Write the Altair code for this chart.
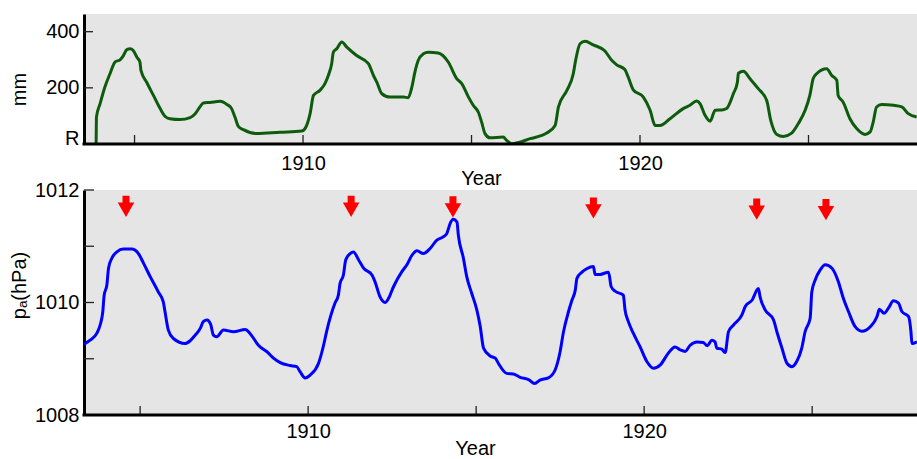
import altair as alt
import pandas as pd

# ---------------- data ----------------
rain_years = [1903.86, 1903.87, 1903.98, 1904.12, 1904.27, 1904.42, 1904.57, 1904.67, 1904.77, 1904.87,
              1904.96, 1905.07, 1905.16, 1905.19, 1905.36, 1905.56, 1905.76, 1905.91, 1906.05, 1906.35,
              1906.65, 1906.80, 1906.94, 1907.04, 1907.24, 1907.54, 1907.74, 1907.88, 1907.98, 1908.08,
              1908.23, 1908.63, 1909.32, 1909.96, 1910.06, 1910.21, 1910.31, 1910.50, 1910.65, 1910.75,
              1910.85, 1910.90, 1911.00, 1911.15, 1911.30, 1911.59, 1911.94, 1912.09, 1912.19, 1912.34,
              1912.58, 1912.98, 1913.12, 1913.23, 1913.32, 1913.42, 1913.57, 1913.72, 1914.01, 1914.31,
              1914.56, 1914.71, 1914.91, 1915.05, 1915.20, 1915.30, 1915.40, 1915.55, 1915.94, 1916.04,
              1916.19, 1916.74, 1917.23, 1917.48, 1917.58, 1917.83, 1918.02, 1918.09, 1918.22, 1918.37,
              1918.61, 1918.96, 1919.16, 1919.31, 1919.55, 1919.65, 1919.80, 1920.10, 1920.30, 1920.45,
              1920.59, 1920.89, 1921.28, 1921.48, 1921.68, 1921.78, 1921.93, 1922.08, 1922.23, 1922.47,
              1922.57, 1922.77, 1922.89, 1922.92, 1923.07, 1923.26, 1923.51, 1923.76, 1923.88, 1924.06,
              1924.25, 1924.50, 1924.70, 1924.90, 1925.04, 1925.14, 1925.24, 1925.54, 1925.69, 1925.84,
              1925.88, 1926.03, 1926.23, 1926.43, 1926.68, 1926.83, 1926.92, 1927.02, 1927.17, 1927.52,
              1927.77, 1927.96, 1928.21]
rain_mm = [0, 96, 145, 203, 250, 292, 300, 315, 336, 339,
           333, 309, 292, 262, 220, 173, 126, 98, 90, 87,
           94, 108, 132, 146, 148, 152, 141, 126, 96, 63,
           51, 37, 42, 46, 55, 108, 173, 191, 215, 244,
           286, 327, 339, 363, 345, 315, 286, 244, 220, 179,
           167, 167, 165, 203, 256, 298, 321, 327, 324, 292,
           233, 215, 167, 138, 114, 78, 37, 22, 25, 13,
           1, 19, 39, 66, 132, 191, 250, 298, 357, 366,
           353, 331, 298, 282, 265, 238, 193, 167, 120, 66,
           66, 90, 126, 138, 153, 144, 102, 81, 120, 122,
           126, 179, 220, 252, 259, 233, 197, 155, 84, 34,
           27, 39, 73, 120, 173, 233, 250, 268, 244, 227,
           173, 149, 90, 55, 34, 43, 78, 132, 141, 138,
           132, 108, 96]

pres_years = [1903.33, 1903.51, 1903.71, 1903.81, 1903.89, 1903.93, 1904.01, 1904.06, 1904.16, 1904.31,
              1904.50, 1904.75, 1904.95, 1905.10, 1905.30, 1905.54, 1905.69, 1905.74, 1905.84, 1905.99,
              1906.34, 1906.49, 1906.64, 1906.79, 1906.88, 1906.99, 1907.10, 1907.18, 1907.28, 1907.48,
              1907.78, 1908.13, 1908.27, 1908.52, 1908.82, 1908.97, 1909.17, 1909.46, 1909.66, 1909.76,
              1909.91, 1910.06, 1910.31, 1910.46, 1910.56, 1910.80, 1910.90, 1910.95, 1911.05, 1911.12,
              1911.25, 1911.35, 1911.50, 1911.65, 1911.90, 1911.99, 1912.14, 1912.29, 1912.39, 1912.54,
              1912.79, 1912.94, 1913.09, 1913.24, 1913.43, 1913.63, 1913.83, 1914.03, 1914.13, 1914.23,
              1914.32, 1914.43, 1914.47, 1914.62, 1914.72, 1914.87, 1915.02, 1915.12, 1915.22, 1915.42,
              1915.57, 1915.66, 1915.91, 1916.11, 1916.31, 1916.56, 1916.74, 1916.90, 1917.15, 1917.35,
              1917.50, 1917.60, 1917.75, 1917.85, 1917.95, 1918.00, 1918.15, 1918.29, 1918.49, 1918.54,
              1918.69, 1918.94, 1919.02, 1919.14, 1919.38, 1919.43, 1919.53, 1919.68, 1919.88, 1920.08,
              1920.28, 1920.48, 1920.72, 1920.92, 1921.07, 1921.22, 1921.37, 1921.57, 1921.76, 1921.88,
              1922.01, 1922.11, 1922.16, 1922.31, 1922.41, 1922.51, 1922.66, 1922.91, 1923.01, 1923.21,
              1923.40, 1923.45, 1923.60, 1923.85, 1923.95, 1924.10, 1924.25, 1924.40, 1924.54, 1924.69,
              1924.79, 1924.94, 1924.99, 1925.09, 1925.24, 1925.39, 1925.59, 1925.78, 1925.93, 1926.08,
              1926.28, 1926.48, 1926.73, 1926.93, 1927.00, 1927.14, 1927.27, 1927.42, 1927.57, 1927.67,
              1927.87, 1927.94, 1927.97, 1928.12]
pres_hpa = [1009.26, 1009.33, 1009.45, 1009.60, 1009.84, 1010.13, 1010.31, 1010.61, 1010.79, 1010.90,
            1010.95, 1010.95, 1010.87, 1010.70, 1010.46, 1010.19, 1010.01, 1009.84, 1009.51, 1009.36,
            1009.27, 1009.32, 1009.42, 1009.54, 1009.66, 1009.69, 1009.61, 1009.42, 1009.39, 1009.51,
            1009.48, 1009.52, 1009.45, 1009.24, 1009.10, 1009.01, 1008.93, 1008.88, 1008.86, 1008.77,
            1008.66, 1008.71, 1008.92, 1009.24, 1009.51, 1009.99, 1010.13, 1010.34, 1010.49, 1010.76,
            1010.87, 1010.90, 1010.76, 1010.61, 1010.49, 1010.37, 1010.10, 1010.00, 1010.07, 1010.28,
            1010.55, 1010.67, 1010.84, 1010.92, 1010.87, 1010.96, 1011.11, 1011.17, 1011.23, 1011.41,
            1011.48, 1011.43, 1011.20, 1010.79, 1010.46, 1010.16, 1009.87, 1009.58, 1009.19, 1009.05,
            1009.01, 1008.92, 1008.74, 1008.73, 1008.67, 1008.63, 1008.56, 1008.62, 1008.66, 1008.80,
            1009.13, 1009.48, 1009.84, 1010.04, 1010.22, 1010.43, 1010.54, 1010.60, 1010.64, 1010.50,
            1010.50, 1010.54, 1010.28, 1010.20, 1010.13, 1009.87, 1009.66, 1009.45, 1009.21, 1008.95,
            1008.83, 1008.89, 1009.10, 1009.21, 1009.16, 1009.13, 1009.24, 1009.30, 1009.29, 1009.23,
            1009.33, 1009.30, 1009.19, 1009.17, 1009.11, 1009.48, 1009.60, 1009.78, 1009.93, 1010.04,
            1010.25, 1010.10, 1009.87, 1009.69, 1009.48, 1009.19, 1008.92, 1008.86, 1008.95, 1009.19,
            1009.48, 1009.72, 1010.19, 1010.40, 1010.58, 1010.67, 1010.61, 1010.37, 1010.07, 1009.84,
            1009.57, 1009.49, 1009.57, 1009.75, 1009.88, 1009.81, 1009.90, 1010.03, 1009.99, 1009.84,
            1009.75, 1009.48, 1009.27, 1009.30]

arrow_years = [1904.58, 1911.28, 1914.31, 1918.49, 1923.35, 1925.41]
arrow_levels = [1011.71, 1011.71, 1011.70, 1011.68, 1011.66, 1011.65]

year_ticks = [1905, 1910, 1915, 1920, 1925]
year_labels = [1910, 1920]
rain_ticks = [200, 400]
rain_labels = [0, 200, 400]
pres_ticks = [1009, 1010, 1011, 1012]
pres_labels = [1008, 1010, 1012]

# ---------------- layout / style ----------------
W = 833
H1, H2 = 130, 225
FONT = "Liberation Sans"
FS = 20
ARROW = "M-0.33,-1 L0.33,-1 L0.33,-0.35 L0.78,-0.35 L0,1 L-0.78,-0.35 L-0.33,-0.35 Z"

rain_df = pd.DataFrame({"year": rain_years, "mm": rain_mm})
pres_df = pd.DataFrame({"year": pres_years, "hpa": pres_hpa})
arrow_df = pd.DataFrame({"year": arrow_years, "hpa": arrow_levels})
one_df = pd.DataFrame({"k": [0]})

top_x = alt.Scale(domain=[1903.50, 1928.22], nice=False, zero=False)
top_y = alt.Scale(domain=[0, 463], nice=False, zero=False)
bot_x = alt.Scale(domain=[1903.33, 1928.12], nice=False, zero=False)
bot_y = alt.Scale(domain=[1008, 1012], nice=False, zero=False)


def x_axis(label_pad, title_x, title_y):
    return alt.Axis(values=year_labels, format="d", title="Year", domain=False, ticks=False,
                    tickSize=0, grid=False, labelPadding=label_pad, labelBaseline="alphabetic",
                    labelFont=FONT, labelFontSize=FS, labelColor="black",
                    titleFont=FONT, titleFontSize=FS, titleFontWeight="normal", titleColor="black",
                    titleX=title_x, titleY=title_y, titleAlign="center", titleBaseline="alphabetic")


def y_axis(values, title, title_y, label_expr=None):
    kw = dict(values=values, title=title, format="d", domain=True, domainColor="black", domainWidth=3,
              ticks=False, tickSize=0, grid=False, labelPadding=5,
              labelFont=FONT, labelFontSize=FS, labelColor="black",
              titleFont=FONT, titleFontSize=FS, titleFontWeight="normal", titleColor="black",
              titleAngle=270, titleX=-59, titleY=title_y, titleAlign="center",
              titleBaseline="alphabetic")
    if label_expr:
        kw["labelExpr"] = label_expr
        kw["labelBaseline"] = {"expr": "datum.value == 0 ? 'alphabetic' : 'middle'"}
    else:
        kw["labelBaseline"] = "middle"
    return alt.Axis(**kw)


top_xa = x_axis(25, 397, 40)
top_ya = y_axis(rain_labels, "mm", 75, "datum.value == 0 ? 'R' : datum.label")
bot_xa = x_axis(22, 391, 39)
bot_ya = y_axis(pres_labels, "pₐ(hPa)", 95)

# ---------------- top panel ----------------
rain_line = alt.Chart(rain_df).mark_line(
    color="#0d5c0d", strokeWidth=3, interpolate="monotone", clip=True
).encode(
    x=alt.X("year:Q", scale=top_x, axis=top_xa),
    y=alt.Y("mm:Q", scale=top_y, axis=top_ya),
)
rain_yt = alt.Chart(pd.DataFrame({"mm": rain_ticks})).mark_rule(color="#222", strokeWidth=1.3).encode(
    y=alt.Y("mm:Q", scale=top_y, axis=top_ya), x=alt.value(0), x2=alt.value(9))
rain_xt = alt.Chart(pd.DataFrame({"year": year_ticks})).mark_rule(color="#222", strokeWidth=1.3).encode(
    x=alt.X("year:Q", scale=top_x, axis=top_xa), y=alt.value(H1), y2=alt.value(H1 - 9))
rain_base = alt.Chart(one_df).mark_rect(color="black").encode(
    x=alt.value(-1.5), x2=alt.value(W), y=alt.value(H1 - 1.5), y2=alt.value(H1 + 1.5))
anchor = alt.Chart(one_df).mark_rect(opacity=0).encode(
    x=alt.value(-84), x2=alt.value(-83), y=alt.value(-14), y2=alt.value(-13))

top = alt.layer(rain_line, rain_yt, rain_xt, rain_base, anchor).properties(width=W, height=H1)

# ---------------- bottom panel ----------------
pres_line = alt.Chart(pres_df).mark_line(
    color="#0000ff", strokeWidth=3, interpolate="monotone", clip=True
).encode(
    x=alt.X("year:Q", scale=bot_x, axis=bot_xa),
    y=alt.Y("hpa:Q", scale=bot_y, axis=bot_ya),
)
pres_yt = alt.Chart(pd.DataFrame({"hpa": pres_ticks})).mark_rule(color="#222", strokeWidth=1.3).encode(
    y=alt.Y("hpa:Q", scale=bot_y, axis=bot_ya), x=alt.value(0), x2=alt.value(10))
pres_xt = alt.Chart(pd.DataFrame({"year": year_ticks})).mark_rule(color="#222", strokeWidth=1.3).encode(
    x=alt.X("year:Q", scale=bot_x, axis=bot_xa), y=alt.value(H2), y2=alt.value(H2 - 9))
pres_base = alt.Chart(one_df).mark_rect(color="black").encode(
    x=alt.value(-1.5), x2=alt.value(W), y=alt.value(H2 - 1.5), y2=alt.value(H2 + 1.5))
arrows = alt.Chart(arrow_df).mark_point(
    shape=ARROW, filled=True, color="#ff0000", size=450, opacity=1, strokeWidth=0
).encode(
    x=alt.X("year:Q", scale=bot_x, axis=bot_xa),
    y=alt.Y("hpa:Q", scale=bot_y, axis=bot_ya),
)

bottom = alt.layer(pres_line, pres_yt, pres_xt, pres_base, arrows).properties(width=W, height=H2)

chart = alt.vconcat(top, bottom, spacing=46, bounds="flush").properties(
    padding={"left": 0, "top": 0, "right": 0, "bottom": 0},
    background="white",
).configure_view(fill="#e5e5e5", strokeWidth=0)

chart.save("out.html", embed_options={"renderer": "svg", "actions": False})
